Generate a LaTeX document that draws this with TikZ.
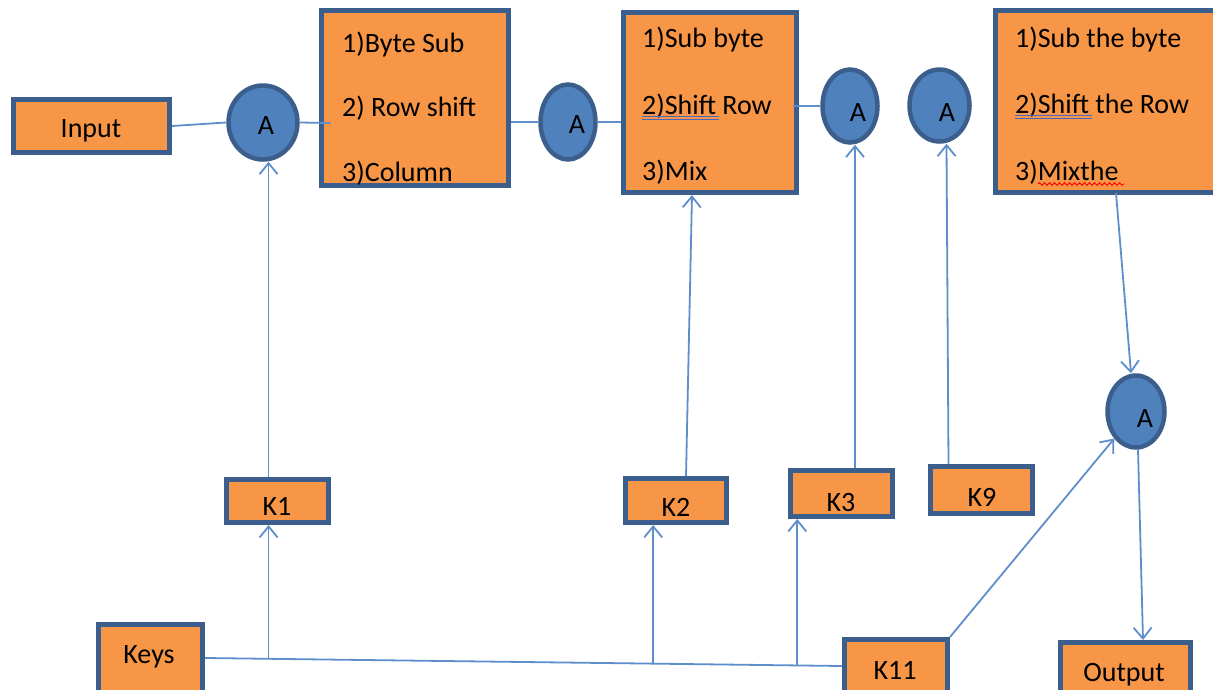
\documentclass[tikz,border=0pt]{standalone}
\usepackage{fontspec}
\setmainfont{Carlito}
\usetikzlibrary{arrows.meta,shapes.geometric,calc,decorations.pathmorphing}
\definecolor{boxfill}{HTML}{F79646}
\definecolor{boxline}{HTML}{3B5E8C}
\definecolor{circfill}{HTML}{4F81BD}
\definecolor{conn}{HTML}{5E8ECB}
\definecolor{ulblue}{HTML}{4A66C4}
\begin{document}
\begin{tikzpicture}[x=1pt,y=-1pt,
  box/.style={draw=boxline,fill=boxfill,line width=5pt,inner sep=0pt,rectangle},
  adder/.style={draw=boxline,fill=circfill,line width=4.5pt,inner sep=0pt,ellipse},
  txt/.style={font=\fontsize{28}{33}\selectfont,inner sep=0pt,text=black},
  wire/.style={draw=conn,line width=1.8pt},
  arr/.style={wire,-{Straight Barb[length=11pt,width=18pt]}},
  ul/.style={draw=ulblue,line width=1pt}]
\useasboundingbox (0,0) rectangle (1213,689);

% boxes
\node[box,minimum width=156pt,minimum height=53pt] (Input) at (91.5,126) {};
\node[box,minimum width=187pt,minimum height=175pt] (B1) at (415,98) {};
\node[box,minimum width=173pt,minimum height=180pt] (B2) at (710,102.5) {};
\node[box,minimum width=252pt,minimum height=182pt] (B3) at (1121.5,101.5) {};
\node[box,minimum width=102pt,minimum height=43pt] (K1) at (277.5,501) {};
\node[box,minimum width=101pt,minimum height=44pt] (K2) at (676,500.5) {};
\node[box,minimum width=102pt,minimum height=46pt] (K3) at (841.5,493.5) {};
\node[box,minimum width=102pt,minimum height=47pt] (K9) at (981.5,490) {};
\node[box,minimum width=103pt,minimum height=63pt] (K11) at (896,671) {};
\node[box,minimum width=130pt,minimum height=65pt] (Output) at (1125.5,675) {};
\node[box,minimum width=104pt,minimum height=73pt] (Keys) at (150.5,661) {};

% adders
\node[adder,minimum width=69pt,minimum height=74pt] (A1) at (263,122.5) {};
\node[adder,minimum width=55pt,minimum height=75pt] (A2) at (568,122) {};
\node[adder,minimum width=55pt,minimum height=73pt] (A3) at (850,106) {};
\node[adder,minimum width=60pt,minimum height=72pt] (A4) at (939.5,105.5) {};
\node[adder,minimum width=57pt,minimum height=72pt] (A5) at (1136,411.5) {};

% texts
\node[txt,anchor=base] (tIn) at (91,137) {Input};
\node[txt,anchor=base] (tK1) at (277,515) {K1};
\node[txt,anchor=base] (tK2) at (676,516) {K2};
\node[txt,anchor=base] (tK3) at (841,511) {K3};
\node[txt,anchor=base] (tK9) at (982,506) {K9};
\node[txt,anchor=base] (tK11) at (895,679) {K11};
\node[txt,anchor=base] (tOut) at (1124,681) {Output};
\node[txt,anchor=base] (tKeys) at (149,663) {Keys};
\node[txt,anchor=base] (tA1) at (266,134) {A};
\node[txt,anchor=base] (tA2) at (577,133) {A};
\node[txt,anchor=base] (tA3) at (858,121) {A};
\node[txt,anchor=base] (tA4) at (947,121) {A};
\node[txt,anchor=base] (tA5) at (1145,427) {A};

\node[txt,anchor=base west] (b1a) at (342,52) {1)Byte Sub};
\node[txt,anchor=base west] (b1b) at (342,116) {2) Row shift};
\node[txt,anchor=base west] (b1c) at (342,181) {3)Column};
\node[txt,anchor=base west] (b2a) at (642,47) {1)Sub byte};
\node[txt,anchor=base west] (b2b) at (642,114) {2)Shift Row};
\node[txt,anchor=base west] (b2c) at (642,180) {3)Mix};
\node[txt,anchor=base west] (b3a) at (1015,47) {1)Sub the byte};
\node[txt,anchor=base west] (b3b) at (1015,113) {2)Shift the Row};
\node[txt,anchor=base west] (b3c) at (1015,180) {3)Mixthe};

% spell-check marks
\draw[ul] (642,116) -- (719,116);
\draw[ul] (642,119) -- (719,119);
\draw[ul] (1015,115) -- (1092,115);
\draw[ul] (1015,118.5) -- (1092,118.5);
\draw[red,line width=0.9pt,decorate,decoration={snake,amplitude=1.3pt,segment length=5pt}] (1038,184) -- (1124,184);

% helper coordinates
\coordinate (b1in) at (330,123);
\coordinate (b2out) at (793,106);
\coordinate (b3out) at (1116,193);
\coordinate (kl) at ([yshift=3pt]Keys.east);
\coordinate (kr) at ([yshift=5pt]K11.west);
\coordinate (j1) at ($(kl)!0.0998!(kr)$);
\coordinate (j2) at ($(kl)!0.7036!(kr)$);
\coordinate (j3) at ($(kl)!0.9298!(kr)$);

% connectors (plain)
\draw[wire] (Input.east) -- (A1.west);
\draw[wire] (A1.east) -- (b1in);
\draw[wire] (A2.west -| B1.east) -- (A2.west);
\draw[wire] (A2.east) -- (A2.east -| B2.west);
\draw[wire] (b2out) -- (A3.west);
\draw[wire] (kl) -- (kr);

% arrows
\draw[arr] (j1 |- K1.north) -- (j1 |- A1.south);
\draw[arr] ([xshift=10pt]K2.north) -- ([xshift=-18pt]B2.south);
\draw[arr] ([xshift=13.5pt]K3.north) -- ([xshift=13.5pt]K3.north |- A3.south);
\draw[arr] ([xshift=-33pt]K9.north) -- ([xshift=7pt]A4.south);
\draw[arr] (b3out) -- ([xshift=-5pt]A5.north);
\draw[arr] ([xshift=2pt]A5.south) -- ([xshift=17.5pt]Output.north);
\draw[arr] (K11.north east) -- (A5.south west);
\draw[arr] (j1) -- (j1 |- K1.south);
\draw[arr] (j2) -- (j2 |- K2.south);
\draw[arr] (j3) -- (j3 |- K3.south);
\end{tikzpicture}
\end{document}
